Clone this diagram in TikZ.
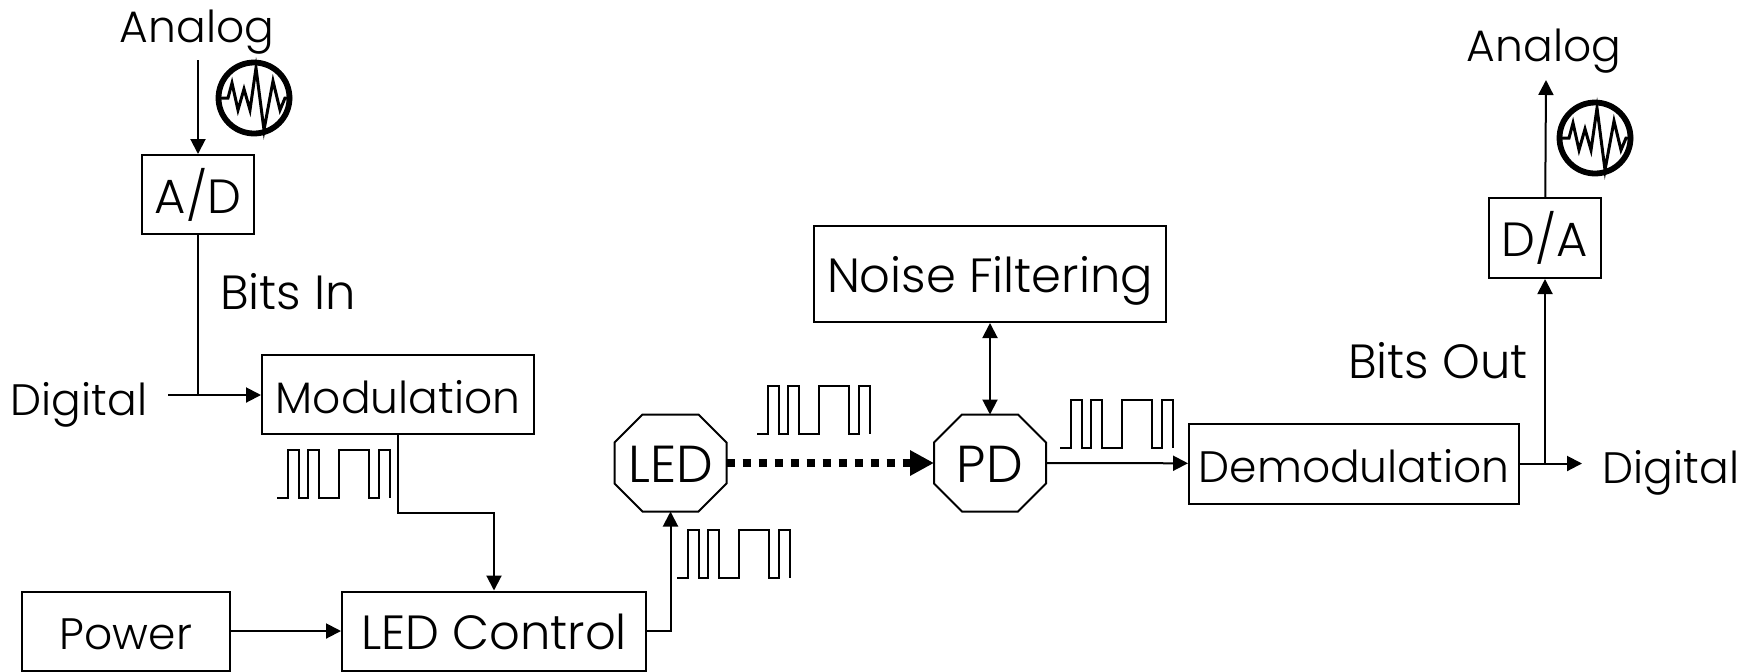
\documentclass[tikz,border=0pt]{standalone}
\usepackage{fontspec}
\setmainfont{Poppins Light}
\usetikzlibrary{arrows.meta,positioning}

\begin{document}
\begin{tikzpicture}[x=0.5pt,y=-0.5pt,line width=1pt,
    >={Triangle[length=7.5pt,width=7.5pt]},
    box/.style={draw,font=\fontsize{22}{22}\selectfont,inner sep=0pt,text height=20.6pt,text depth=2pt},
    wide/.style={font=\fontsize{24}{24}\selectfont},
    octa/.style={font=\fontsize{26}{26}\selectfont,inner sep=0pt,outer sep=0pt,text height=21pt,text depth=2pt,
      minimum width=56pt,minimum height=48.5pt},
    label/.style={font=\fontsize{22}{22}\selectfont,inner sep=0pt,text height=17pt,text depth=2pt},
    bitwave/.pic={\draw[line width=0.75pt] (0,0) -- (11,0) -- (11,-48) -- (22,-48) -- (22,0) -- (31,0) -- (31,-48)
      -- (42,-48) -- (42,0) -- (62,0) -- (62,-48) -- (92,-48) -- (92,0) -- (102,0) -- (102,-48) -- (113,-48) -- (113,0);},
    scopeicon/.pic={\draw[line width=2.9pt] (0,0) circle (35.5);
      \draw[line width=1.5pt,line join=miter] (-38,0) -- (-26,0) -- (-22,-15) -- (-16,12) -- (-10,-9) -- (-4,12)
      -- (2,-30) -- (10,32) -- (19,-17) -- (26,12) -- (31,0) -- (38,0);}]
  \useasboundingbox (0,0) rectangle (1756,671);
  % blocks
  \node[box,wide,minimum width=56pt,minimum height=39.5pt] (AD) at (198,194.5) {A/D};
  \node[box,minimum width=136pt,minimum height=39.5pt] (Mod) at (398,394.5) {Modulation};
  \node[box,minimum width=104pt,minimum height=39.5pt] (Power) at (126,631) {Power};
  \node[box,wide,minimum width=152pt,minimum height=39.5pt] (Ctrl) at (494,631) {LED Control};
  \node[octa] (LED) at (670.5,463) {LED};
  \node[octa] (PD) at (990,463) {PD};
  \node[box,wide,minimum width=176pt,minimum height=48pt] (Noise) at (990,274) {Noise Filtering};
  \node[box,minimum width=165pt,minimum height=40pt] (Demod) at (1354,463.5) {Demodulation};
  \node[box,wide,minimum width=56pt,minimum height=40pt] (DA) at (1545,238) {D/A};
  \foreach \o in {LED,PD}
    \draw ([xshift=14pt]\o.north west) -- ([xshift=-14pt]\o.north east) -- ([yshift=-14pt]\o.north east)
      -- ([yshift=14pt]\o.south east) -- ([xshift=-14pt]\o.south east) -- ([xshift=14pt]\o.south west)
      -- ([yshift=14pt]\o.south west) -- ([yshift=-14pt]\o.north west) -- cycle;
  % labels
  \node[label] (AnalogIn) at (197,27) {Analog};
  \node[label] (AnalogOut) at (1544,46) {Analog};
  \node[label] (DigitalIn) at (79,400) {Digital};
  \node[label] (DigitalOut) at (1671,468) {Digital};
  \node[label,wide] (BitsIn) at (288,294) {Bits In};
  \node[label,wide] (BitsOut) at (1438,363) {Bits Out};
  % free ends
  \coordinate (a) at (198,60);
  \coordinate (b) at (168,395);
  \coordinate (c) at (198,395);
  \coordinate (d) at (494,513);
  \coordinate (e) at (670.5,631);
  \coordinate (f) at (1582,463.5);
  \coordinate (g) at (1545,463.5);
  \coordinate (h) at (1546,80);
  % connectors
  \draw[->] (a) -- (AD);
  \draw (AD) -- (c);
  \draw[->] (b) -- (Mod.west |- b);
  \draw[->] (Mod) |- (d) -- (Ctrl);
  \draw[->] (Power) -- (Ctrl);
  \draw[->] (Ctrl.east |- e) -- (e) -- (LED);
  \draw[->] (PD) -- (Demod);
  \draw[<->] (Noise) -- (PD);
  \draw[->] (Demod) -- (f);
  \draw[->] (g) -- (DA);
  \draw[->] (DA) -- (h);
  \draw[-{Triangle[length=12pt,width=12pt]},line width=4pt,dash pattern=on 4pt off 4pt] (LED) -- (PD);
  % signals
  \pic at (277,498) {bitwave};
  \pic at (757,434) {bitwave};
  \pic at (677,578) {bitwave};
  \pic at (1060,448) {bitwave};
  \pic at (254,98) {scopeicon};
  \pic at (1595,138) {scopeicon};
\end{tikzpicture}
\end{document}
